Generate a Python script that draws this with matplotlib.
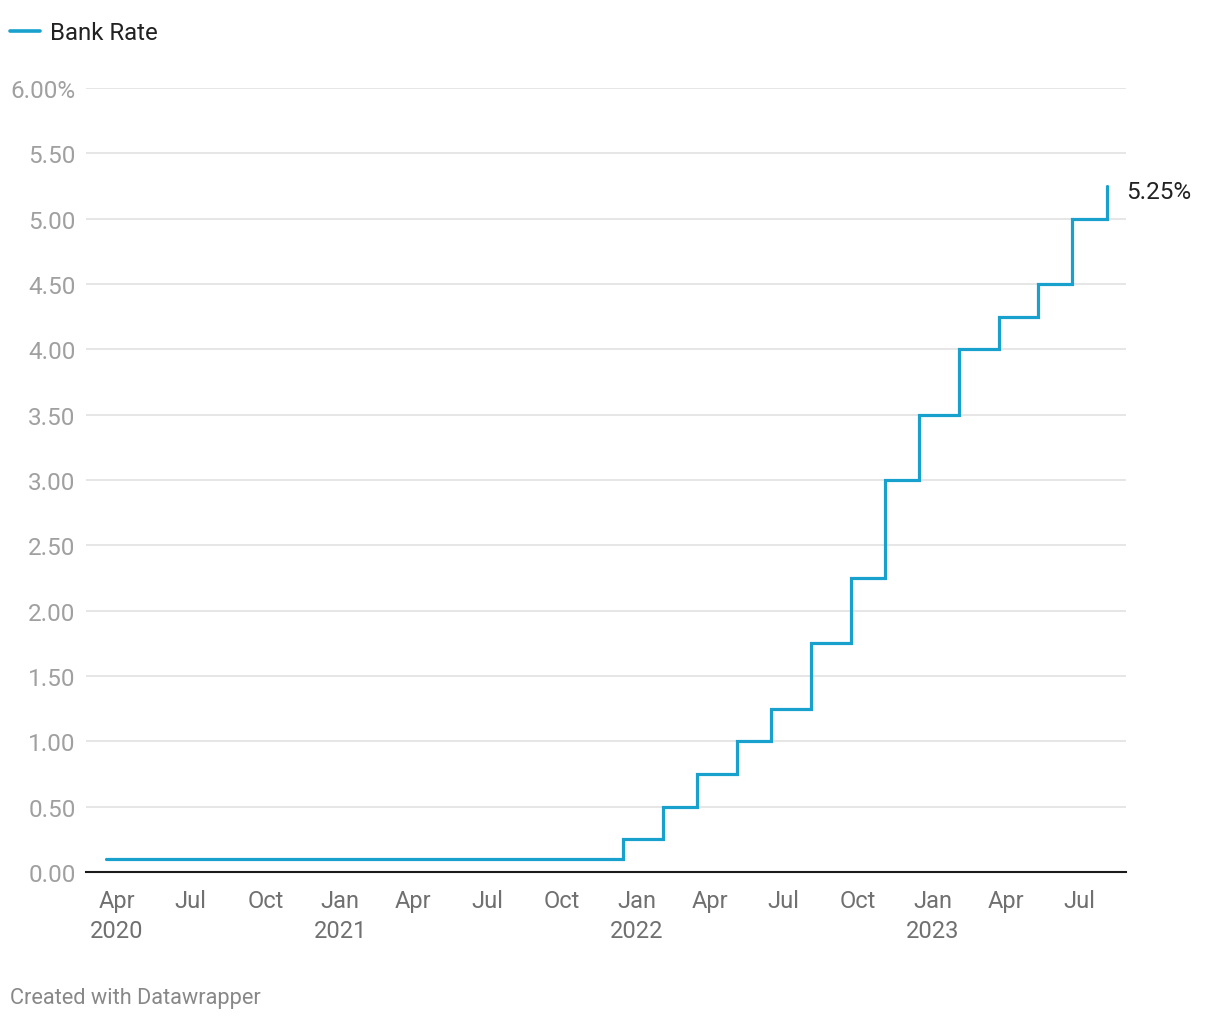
import matplotlib.pyplot as plt
from matplotlib.lines import Line2D
import datetime as dt

# Bank Rate changes (date of change, new rate %)
change_dates = ["2020-03-19", "2021-12-16", "2022-02-03", "2022-03-17", "2022-05-05",
                "2022-06-16", "2022-08-04", "2022-09-22", "2022-11-03", "2022-12-15",
                "2023-02-02", "2023-03-23", "2023-05-11", "2023-06-22", "2023-08-03"]
rates = [0.10, 0.25, 0.50, 0.75, 1.00, 1.25, 1.75, 2.25, 3.00, 3.50,
         4.00, 4.25, 4.50, 5.00, 5.25]

y_ticks = [0, 0.5, 1, 1.5, 2, 2.5, 3, 3.5, 4, 4.5, 5, 5.5, 6]
tick_months = ["2020-04-01", "2020-07-01", "2020-10-01", "2021-01-01", "2021-04-01",
               "2021-07-01", "2021-10-01", "2022-01-01", "2022-04-01", "2022-07-01",
               "2022-10-01", "2023-01-01", "2023-04-01", "2023-07-01"]

BLUE = "#18a1cd"
plt.rcParams["font.family"] = ["Roboto", "DejaVu Sans"]

dates = [dt.datetime.strptime(d, "%Y-%m-%d") for d in change_dates]
ticks = [dt.datetime.strptime(d, "%Y-%m-%d") for d in tick_months]

W, H = 1220, 1020
fig = plt.figure(figsize=(W / 100, H / 100), dpi=100)
ax = fig.add_axes([86 / W, 1 - 873 / H, (1126 - 86) / W, (873 - 89) / H])

ax.step(dates, rates, where="post", color=BLUE, lw=2.3, solid_capstyle="round",
        solid_joinstyle="miter", zorder=3)

ax.set_xlim(dt.datetime(2020, 2, 23), dt.datetime(2023, 8, 27))
ax.set_ylim(0, 6)

ax.set_yticks(y_ticks)
ax.set_yticklabels([f"{v:.2f}%" if v == 6 else f"{v:.2f}" for v in y_ticks])
ax.grid(axis="y", color="#e2e2e2", lw=1.2)
ax.set_axisbelow(True)

labels = []
for i, t in enumerate(ticks):
    lab = t.strftime("%b")
    if i == 0 or t.month == 1:
        lab += f"\n{t.year}"
    labels.append(lab)
ax.set_xticks(ticks)
ax.set_xticklabels(labels, linespacing=1.42)

for s in ["top", "right", "left"]:
    ax.spines[s].set_visible(False)
ax.spines["bottom"].set_color("#1a1a1a")
ax.spines["bottom"].set_linewidth(1.5)
ax.spines["bottom"].set_zorder(4)

ax.tick_params(axis="y", length=0, pad=7.5, labelsize=17.5, labelcolor="#a0a0a0")
ax.tick_params(axis="x", length=0, pad=12, labelsize=17, labelcolor="#707070")

ax.annotate(f"{rates[-1]:.2f}%", xy=(dates[-1], rates[-1]), xytext=(14, -4),
            textcoords="offset points", fontsize=17.5, color="#222222",
            ha="left", va="center", annotation_clip=False)

# legend
fig.add_artist(Line2D([10 / W, 40 / W], [1 - 32 / H, 1 - 32 / H], color=BLUE, lw=2.6,
                      solid_capstyle="round"))
fig.text(50 / W, 1 - 33.5 / H, "Bank Rate", fontsize=17.3, color="#222222", va="center")

fig.text(10 / W, 1 - 999 / H, "Created with Datawrapper", fontsize=15.7, color="#888888",
         va="center")

fig.savefig("out.png", dpi=100, facecolor="white")
